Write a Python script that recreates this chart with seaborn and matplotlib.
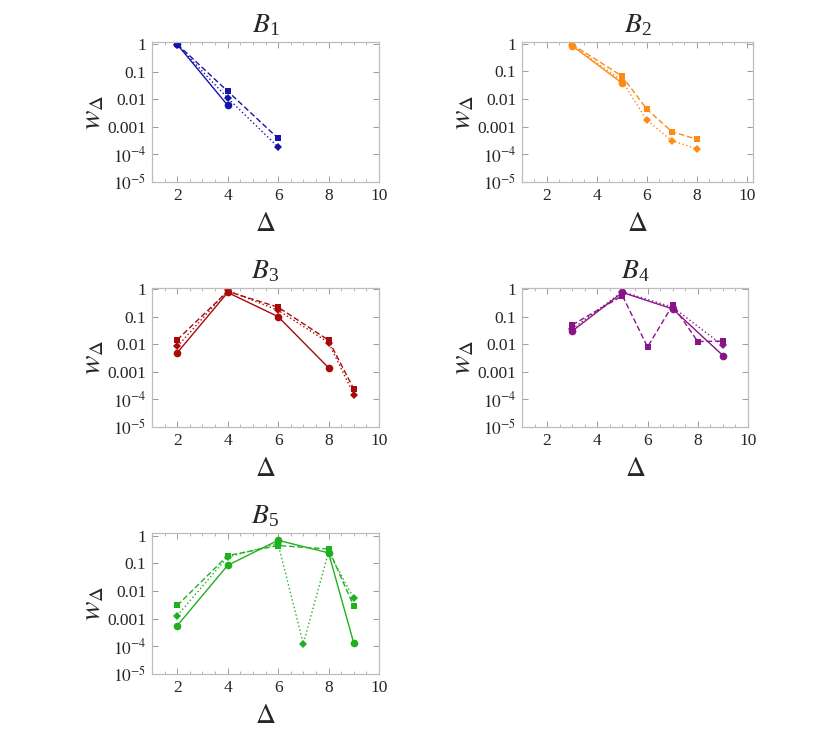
import matplotlib
matplotlib.use("Agg")
import matplotlib.pyplot as plt
import matplotlib.ticker as mticker
import pandas as pd
import seaborn as sns

# values, one list per series
b1_solid_x = [2, 4]
b1_solid_y = [0.97, 0.0060]
b1_dashed_x = [2, 4, 6]
b1_dashed_y = [0.98, 0.0195, 3.8e-4]
b1_dotted_x = [2, 4, 6]
b1_dotted_y = [0.93, 0.011, 1.85e-4]

b2_solid_x = [3, 5]
b2_solid_y = [0.85, 0.038]
b2_dashed_x = [3, 5, 6, 7, 8]
b2_dashed_y = [0.95, 0.068, 0.0043, 6.6e-4, 3.5e-4]
b2_dotted_x = [3, 5, 6, 7, 8]
b2_dotted_y = [0.9, 0.046, 0.0017, 3.1e-4, 1.6e-4]

b3_solid_x = [2, 4, 6, 8]
b3_solid_y = [0.0049, 0.75, 0.1, 0.0014]
b3_dashed_x = [2, 4, 6, 8, 9]
b3_dashed_y = [0.0145, 0.82, 0.22, 0.014, 2.4e-4]
b3_dotted_x = [2, 4, 6, 8, 9]
b3_dotted_y = [0.0083, 0.89, 0.17, 0.0115, 1.5e-4]

b4_solid_x = [3, 5, 7, 9]
b4_solid_y = [0.030, 0.75, 0.19, 0.0039]
b4_dashed_x = [3, 5, 6, 7, 8, 9]
b4_dashed_y = [0.05, 0.57, 0.008, 0.26, 0.0125, 0.013]
b4_dotted_x = [3, 5, 7, 9]
b4_dotted_y = [0.036, 0.80, 0.22, 0.009]

b5_solid_x = [2, 4, 6, 8, 9]
b5_solid_y = [5.6e-4, 0.085, 0.68, 0.24, 1.3e-4]
b5_dashed_x = [2, 4, 6, 8, 9]
b5_dashed_y = [0.0030, 0.19, 0.44, 0.33, 0.0028]
b5_dotted_x = [2, 4, 6, 7, 8, 9]
b5_dotted_y = [0.0013, 0.17, 0.51, 1.25e-4, 0.26, 0.0054]

titles = [r"$B_{\mathregular{1}}$", r"$B_{\mathregular{2}}$", r"$B_{\mathregular{3}}$",
          r"$B_{\mathregular{4}}$", r"$B_{\mathregular{5}}$"]
colors = ["#1414a8", "#ff8a14", "#a80a0a", "#8a1487", "#1fb01f"]
ytick_vals = [1, 0.1, 0.01, 0.001, 1e-4, 1e-5]
ytick_labels = ["1", "0.1", "0.01", "0.001", r"$10^{-4}$", r"$10^{-5}$"]
xtick_vals = [2, 4, 6, 8, 10]


def panel_frame(sx, sy, dx, dy, tx, ty):
    parts = []
    for name, xs, ys in [("solid", sx, sy), ("dashed", dx, dy), ("dotted", tx, ty)]:
        parts.append(pd.DataFrame({"delta": xs, "w": ys, "series": name}))
    return pd.concat(parts, ignore_index=True)


panels = [
    panel_frame(b1_solid_x, b1_solid_y, b1_dashed_x, b1_dashed_y, b1_dotted_x, b1_dotted_y),
    panel_frame(b2_solid_x, b2_solid_y, b2_dashed_x, b2_dashed_y, b2_dotted_x, b2_dotted_y),
    panel_frame(b3_solid_x, b3_solid_y, b3_dashed_x, b3_dashed_y, b3_dotted_x, b3_dotted_y),
    panel_frame(b4_solid_x, b4_solid_y, b4_dashed_x, b4_dashed_y, b4_dotted_x, b4_dotted_y),
    panel_frame(b5_solid_x, b5_solid_y, b5_dashed_x, b5_dashed_y, b5_dotted_x, b5_dotted_y),
]

# line style per series: dash pattern, marker, marker size
styles = {"solid": ("-", "o", 5.5),
          "dashed": ((0, (4, 2)), "s", 3.8),
          "dotted": ((0, (1, 1.8)), "D", 4.3)}

sns.set_style("ticks")
plt.rcParams["font.family"] = "serif"
plt.rcParams["font.serif"] = ["Liberation Serif", "DejaVu Serif"]
plt.rcParams["mathtext.fontset"] = "stix"

fig = plt.figure(figsize=(8.3, 7.38), dpi=100)
W, H = 830, 738
# axes boxes in pixels: left, top, right, bottom
boxes = [(152, 42, 379, 182), (522, 42, 753, 182),
         (152, 288, 379, 427), (522, 288, 748, 427),
         (152, 533, 379, 674)]
xmax = [10, 10.25, 10, 10, 10]
ymax = [1.18, 1.15, 1.09, 1.09, 1.25]

for i, df in enumerate(panels):
    l, t, r, b = boxes[i]
    ax = fig.add_axes([l / W, 1 - b / H, (r - l) / W, (b - t) / H])
    for name, (ls, mk, ms) in styles.items():
        sub = df[df["series"] == name]
        sns.lineplot(data=sub, x="delta", y="w", color=colors[i],
                     linestyle=ls, marker=mk, markersize=ms, linewidth=1,
                     markeredgewidth=0, estimator=None, sort=False, ax=ax)
    ax.set_yscale("log")
    ax.set_xlim(1, xmax[i])
    ax.set_ylim(1e-5, ymax[i])
    ax.set_yticks(ytick_vals)
    ax.set_yticklabels(ytick_labels)
    ax.yaxis.set_minor_locator(mticker.LogLocator(base=10, subs=range(2, 10)))
    ax.yaxis.set_minor_formatter(mticker.NullFormatter())
    ax.set_xticks(xtick_vals)
    ax.xaxis.set_minor_locator(mticker.MultipleLocator(0.5))
    ax.tick_params(which="both", direction="in", top=True, right=True,
                   color="#9a9a9a", labelsize=12.5, pad=4)
    ax.tick_params(which="major", length=4, width=0.7)
    ax.tick_params(which="minor", length=2, width=0.5)
    for sp in ax.spines.values():
        sp.set_color("#bdbdbd")
        sp.set_linewidth(0.9)
    ax.set_title(titles[i], fontsize=20, pad=7)
    ax.set_xlabel(r"$\Delta$", fontsize=20, labelpad=6)
    ax.set_ylabel(r"$w_\Delta$", fontsize=21, labelpad=1)

fig.savefig("out.png", dpi=100)
